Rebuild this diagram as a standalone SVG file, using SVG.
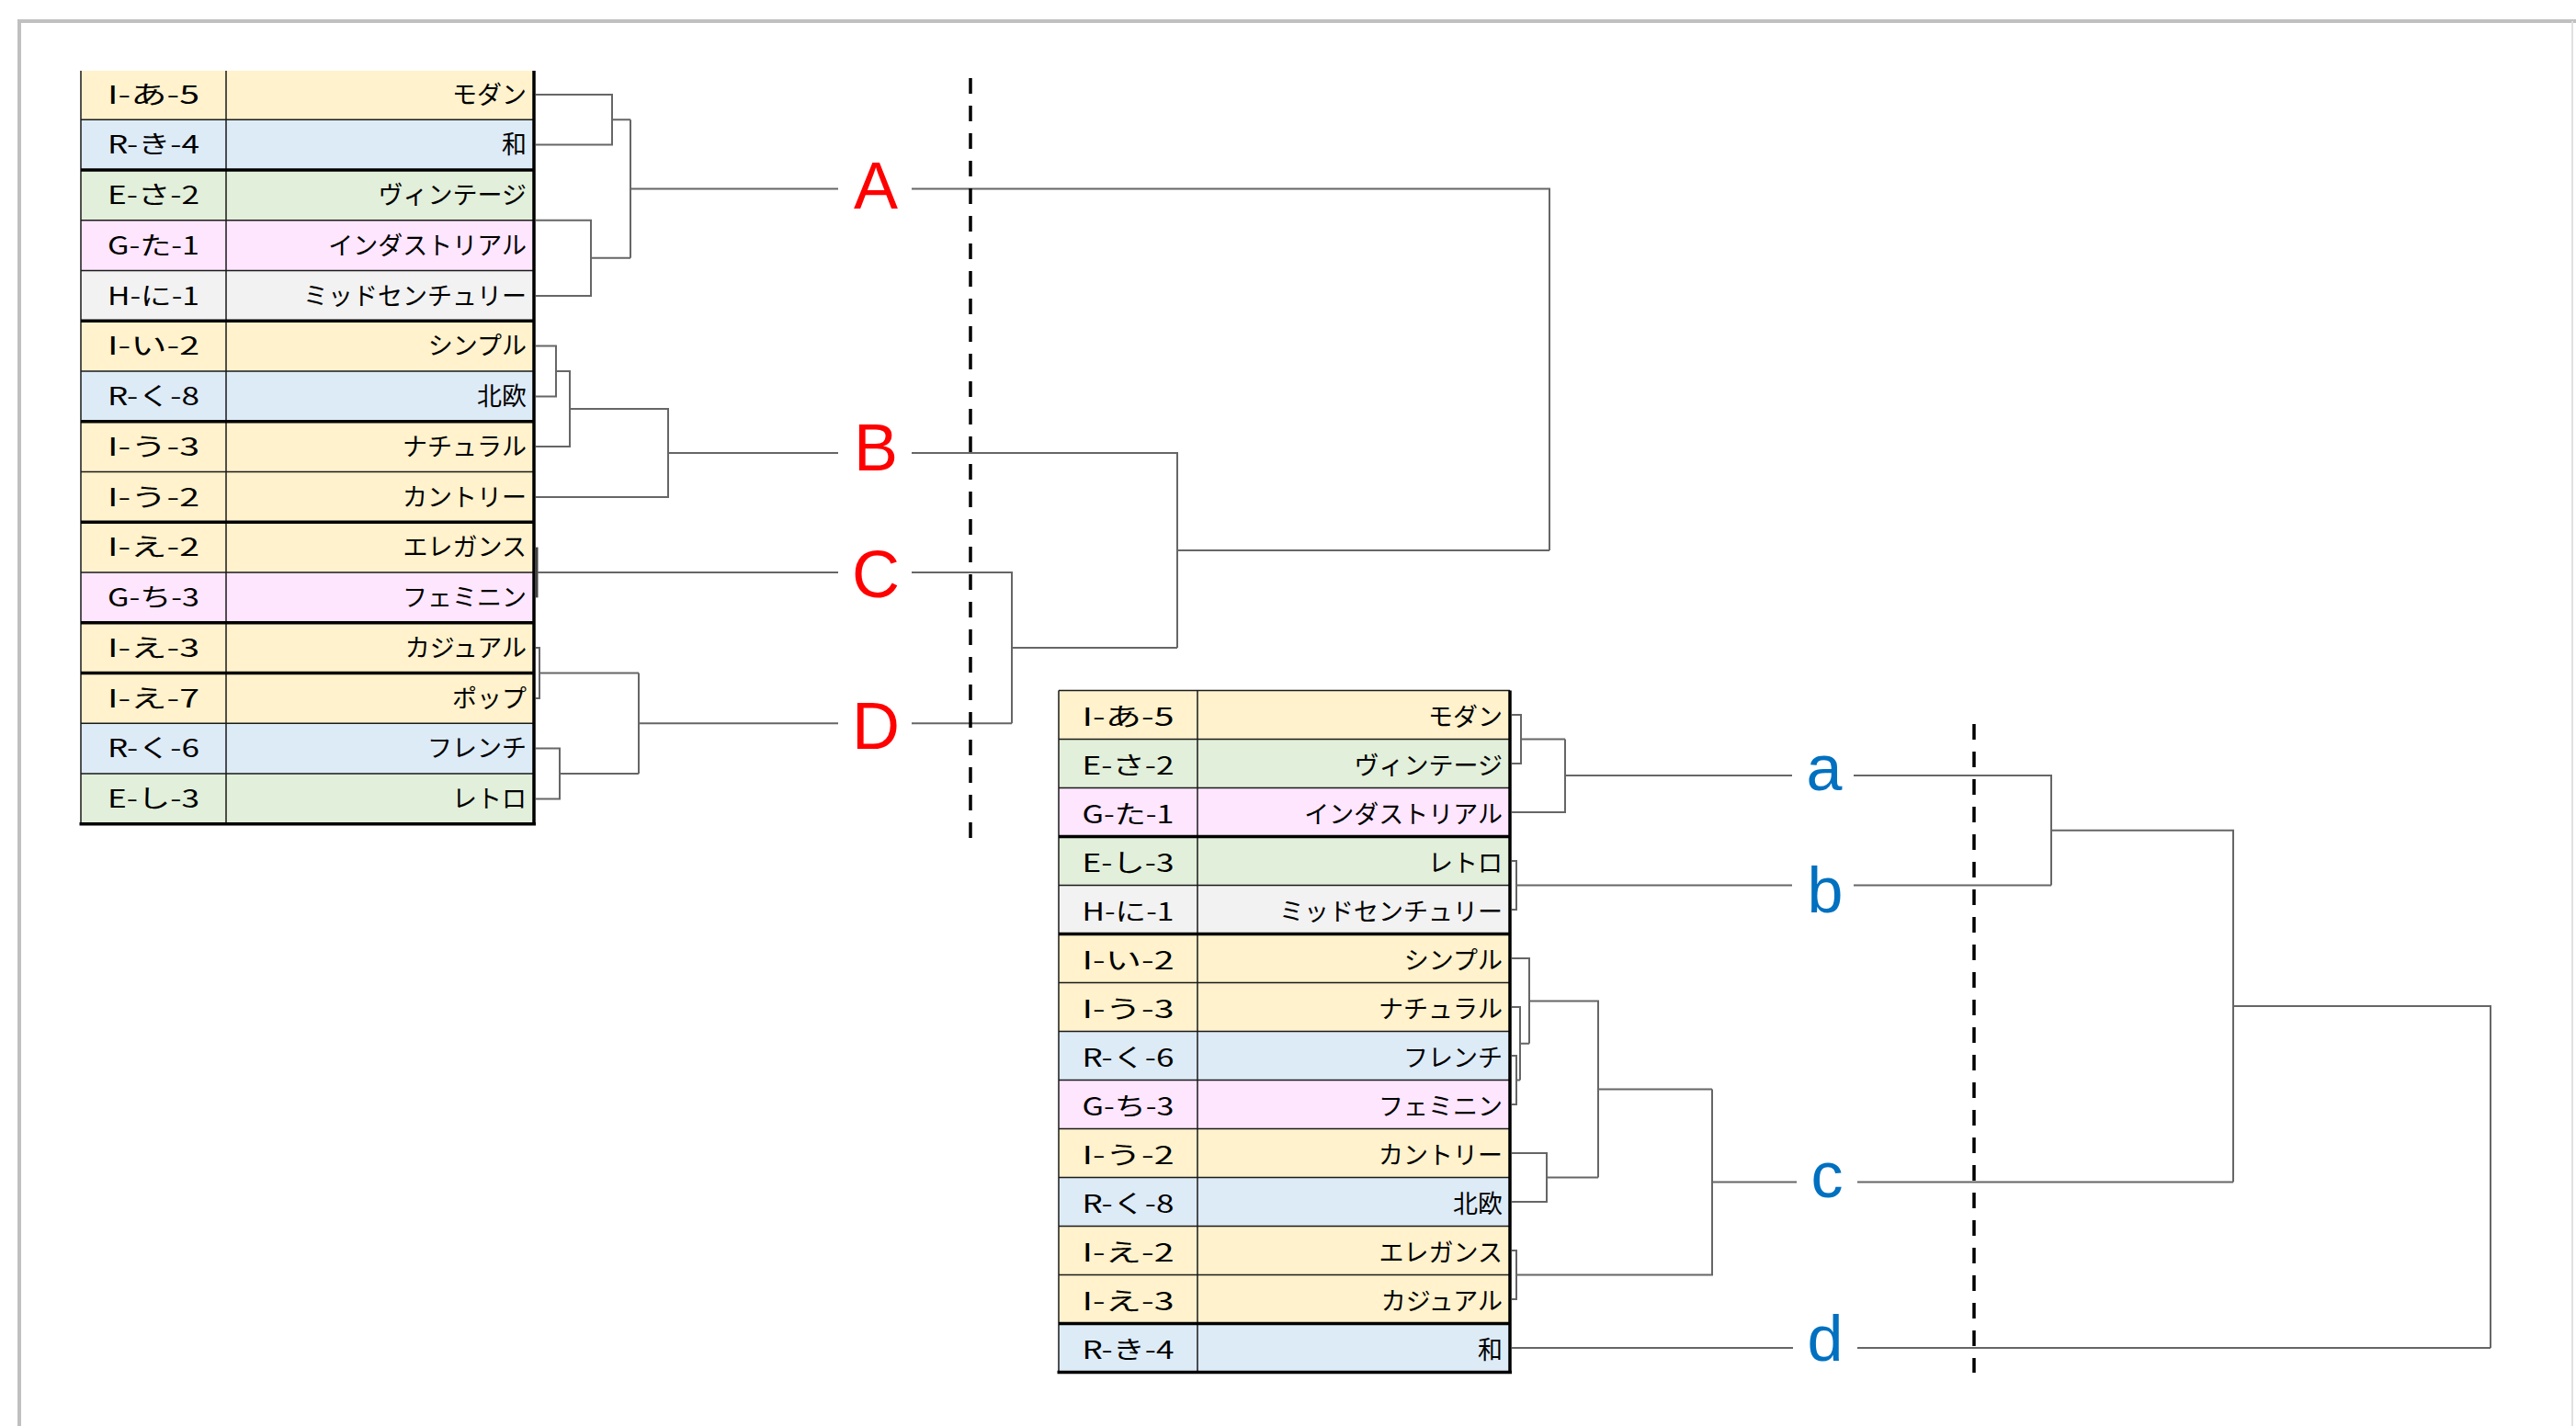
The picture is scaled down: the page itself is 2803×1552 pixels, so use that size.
<svg xmlns="http://www.w3.org/2000/svg" width="2803" height="1552" viewBox="0 0 2803 1552">
<style>
.y{fill:#FFF2CC}.b{fill:#DDEBF7}.g{fill:#E2EFDA}.p{fill:#FFE6FF}.h{fill:#F2F2F2}
.code{font-family:"Noto Sans CJK JP","Noto Sans",sans-serif;font-size:27px;text-anchor:middle;fill:#000}
.name{font-family:"Noto Sans CJK JP","Noto Sans",sans-serif;font-size:27px;text-anchor:end;fill:#000}
.thin{stroke:#1a1a1a;stroke-width:1.5;fill:none}
.thick{stroke:#000;stroke-width:3.5;fill:none}
.cn{stroke:#666;stroke-width:2;fill:none}
.dash{stroke:#000;stroke-width:3.5;stroke-dasharray:17 13;fill:none}
.lr{font-family:"Liberation Sans",Arial,sans-serif;font-size:72px;fill:#FF0000;text-anchor:middle}
.lb{font-family:"Liberation Sans",Arial,sans-serif;font-size:70px;fill:#0070C0;text-anchor:middle}
</style>
<rect x="0" y="0" width="2803" height="1552" fill="#fff"/>
<path d="M21,1552 V23 H2803" stroke="#C0C0C0" stroke-width="4" fill="none"/>
<path d="M2799,23 V1552" stroke="#E0E0E0" stroke-width="2" fill="none"/>

<!-- Left table -->
<g id="left-table">
<g id="L0"><rect class="y" x="88" y="77" width="493" height="53.25"/><text class="code" x="167" y="112.5" textLength="100" lengthAdjust="spacingAndGlyphs">I-あ-5</text><text class="name" x="573" y="112.5">モダン</text></g>
<g id="L1"><rect class="b" x="88" y="130.25" width="493" height="54.75"/><text class="code" x="167" y="167.25" textLength="100" lengthAdjust="spacingAndGlyphs">R-き-4</text><text class="name" x="573" y="167.25">和</text></g>
<g id="L2"><rect class="g" x="88" y="185" width="493" height="54.75"/><text class="code" x="167" y="222" textLength="100" lengthAdjust="spacingAndGlyphs">E-さ-2</text><text class="name" x="573" y="222">ヴィンテージ</text></g>
<g id="L3"><rect class="p" x="88" y="239.75" width="493" height="54.75"/><text class="code" x="167" y="276.75" textLength="100" lengthAdjust="spacingAndGlyphs">G-た-1</text><text class="name" x="573" y="276.75">インダストリアル</text></g>
<g id="L4"><rect class="h" x="88" y="294.5" width="493" height="54.75"/><text class="code" x="167" y="331.5" textLength="100" lengthAdjust="spacingAndGlyphs">H-に-1</text><text class="name" x="573" y="331.5">ミッドセンチュリー</text></g>
<g id="L5"><rect class="y" x="88" y="349.25" width="493" height="54.75"/><text class="code" x="167" y="386.25" textLength="100" lengthAdjust="spacingAndGlyphs">I-い-2</text><text class="name" x="573" y="386.25">シンプル</text></g>
<g id="L6"><rect class="b" x="88" y="404" width="493" height="54.75"/><text class="code" x="167" y="441" textLength="100" lengthAdjust="spacingAndGlyphs">R-く-8</text><text class="name" x="573" y="441">北欧</text></g>
<g id="L7"><rect class="y" x="88" y="458.75" width="493" height="54.75"/><text class="code" x="167" y="495.75" textLength="100" lengthAdjust="spacingAndGlyphs">I-う-3</text><text class="name" x="573" y="495.75">ナチュラル</text></g>
<g id="L8"><rect class="y" x="88" y="513.5" width="493" height="54.75"/><text class="code" x="167" y="550.5" textLength="100" lengthAdjust="spacingAndGlyphs">I-う-2</text><text class="name" x="573" y="550.5">カントリー</text></g>
<g id="L9"><rect class="y" x="88" y="568.25" width="493" height="54.75"/><text class="code" x="167" y="605.25" textLength="100" lengthAdjust="spacingAndGlyphs">I-え-2</text><text class="name" x="573" y="605.25">エレガンス</text></g>
<g id="L10"><rect class="p" x="88" y="623" width="493" height="54.75"/><text class="code" x="167" y="660" textLength="100" lengthAdjust="spacingAndGlyphs">G-ち-3</text><text class="name" x="573" y="660">フェミニン</text></g>
<g id="L11"><rect class="y" x="88" y="677.75" width="493" height="54.75"/><text class="code" x="167" y="714.75" textLength="100" lengthAdjust="spacingAndGlyphs">I-え-3</text><text class="name" x="573" y="714.75">カジュアル</text></g>
<g id="L12"><rect class="y" x="88" y="732.5" width="493" height="54.75"/><text class="code" x="167" y="769.5" textLength="100" lengthAdjust="spacingAndGlyphs">I-え-7</text><text class="name" x="573" y="769.5">ポップ</text></g>
<g id="L13"><rect class="b" x="88" y="787.25" width="493" height="54.75"/><text class="code" x="167" y="824.25" textLength="100" lengthAdjust="spacingAndGlyphs">R-く-6</text><text class="name" x="573" y="824.25">フレンチ</text></g>
<g id="L14"><rect class="g" x="88" y="842" width="493" height="54.75"/><text class="code" x="167" y="879" textLength="100" lengthAdjust="spacingAndGlyphs">E-し-3</text><text class="name" x="573" y="879">レトロ</text></g>
<g id="left-grid">
<path class="thin" d="M88,77 V896.75 M246,77 V896.75 M88,130.25 H581 M88,239.75 H581 M88,294.5 H581 M88,404 H581 M88,513.5 H581 M88,623 H581 M88,787.25 H581 M88,842 H581"/>
<path class="thick" d="M581,77 V898.5 M88,185 H581 M88,349.25 H581 M88,458.75 H581 M88,568.25 H581 M88,677.75 H581 M88,732.5 H581 M86.5,896.75 H583"/>
</g>
</g>

<!-- Right table -->
<g id="right-table">
<g id="R0"><rect class="y" x="1152" y="751.5" width="491" height="53"/><text class="code" x="1227.5" y="789.5" textLength="100" lengthAdjust="spacingAndGlyphs">I-あ-5</text><text class="name" x="1635" y="789.5">モダン</text></g>
<g id="R1"><rect class="g" x="1152" y="804.5" width="491" height="53"/><text class="code" x="1227.5" y="842.5" textLength="100" lengthAdjust="spacingAndGlyphs">E-さ-2</text><text class="name" x="1635" y="842.5">ヴィンテージ</text></g>
<g id="R2"><rect class="p" x="1152" y="857.5" width="491" height="53"/><text class="code" x="1227.5" y="895.5" textLength="100" lengthAdjust="spacingAndGlyphs">G-た-1</text><text class="name" x="1635" y="895.5">インダストリアル</text></g>
<g id="R3"><rect class="g" x="1152" y="910.5" width="491" height="53"/><text class="code" x="1227.5" y="948.5" textLength="100" lengthAdjust="spacingAndGlyphs">E-し-3</text><text class="name" x="1635" y="948.5">レトロ</text></g>
<g id="R4"><rect class="h" x="1152" y="963.5" width="491" height="53"/><text class="code" x="1227.5" y="1001.5" textLength="100" lengthAdjust="spacingAndGlyphs">H-に-1</text><text class="name" x="1635" y="1001.5">ミッドセンチュリー</text></g>
<g id="R5"><rect class="y" x="1152" y="1016.5" width="491" height="53"/><text class="code" x="1227.5" y="1054.5" textLength="100" lengthAdjust="spacingAndGlyphs">I-い-2</text><text class="name" x="1635" y="1054.5">シンプル</text></g>
<g id="R6"><rect class="y" x="1152" y="1069.5" width="491" height="53"/><text class="code" x="1227.5" y="1107.5" textLength="100" lengthAdjust="spacingAndGlyphs">I-う-3</text><text class="name" x="1635" y="1107.5">ナチュラル</text></g>
<g id="R7"><rect class="b" x="1152" y="1122.5" width="491" height="53"/><text class="code" x="1227.5" y="1160.5" textLength="100" lengthAdjust="spacingAndGlyphs">R-く-6</text><text class="name" x="1635" y="1160.5">フレンチ</text></g>
<g id="R8"><rect class="p" x="1152" y="1175.5" width="491" height="53"/><text class="code" x="1227.5" y="1213.5" textLength="100" lengthAdjust="spacingAndGlyphs">G-ち-3</text><text class="name" x="1635" y="1213.5">フェミニン</text></g>
<g id="R9"><rect class="y" x="1152" y="1228.5" width="491" height="53"/><text class="code" x="1227.5" y="1266.5" textLength="100" lengthAdjust="spacingAndGlyphs">I-う-2</text><text class="name" x="1635" y="1266.5">カントリー</text></g>
<g id="R10"><rect class="b" x="1152" y="1281.5" width="491" height="53"/><text class="code" x="1227.5" y="1319.5" textLength="100" lengthAdjust="spacingAndGlyphs">R-く-8</text><text class="name" x="1635" y="1319.5">北欧</text></g>
<g id="R11"><rect class="y" x="1152" y="1334.5" width="491" height="53"/><text class="code" x="1227.5" y="1372.5" textLength="100" lengthAdjust="spacingAndGlyphs">I-え-2</text><text class="name" x="1635" y="1372.5">エレガンス</text></g>
<g id="R12"><rect class="y" x="1152" y="1387.5" width="491" height="53"/><text class="code" x="1227.5" y="1425.5" textLength="100" lengthAdjust="spacingAndGlyphs">I-え-3</text><text class="name" x="1635" y="1425.5">カジュアル</text></g>
<g id="R13"><rect class="b" x="1152" y="1440.5" width="491" height="53"/><text class="code" x="1227.5" y="1478.5" textLength="100" lengthAdjust="spacingAndGlyphs">R-き-4</text><text class="name" x="1635" y="1478.5">和</text></g>
<g id="right-grid">
<path class="thin" d="M1152,751.5 V1493.5 M1303,751.5 V1493.5 M1152,751.5 H1643 M1152,804.5 H1643 M1152,857.5 H1643 M1152,963.5 H1643 M1152,1069.5 H1643 M1152,1122.5 H1643 M1152,1175.5 H1643 M1152,1228.5 H1643 M1152,1281.5 H1643 M1152,1334.5 H1643 M1152,1387.5 H1643"/>
<path class="thick" d="M1643,751.5 V1495 M1152,910.5 H1643 M1152,1016.5 H1643 M1152,1440.5 H1643 M1150.5,1493.5 H1645"/>
</g>
</g>

<!-- Connectors -->
<g id="connectors">
<path class="cn" d="M583,102.9 H666 V157.6 H583 M666,130.25 H686 M583,239.75 H643 V321.9 H583 M643,280.8 H686 M686,130.25 V280.8 M686,205.5 H912 M992,205.5 H1686 V599"/>
<path class="cn" d="M583,376.6 H605 V431.4 H583 M605,404 H620 V486.1 H583 M620,445 H727 V540.9 H583 M727,493 H912 M992,493 H1281 V705.1"/>
<path stroke="#444" stroke-width="3" fill="none" d="M584,595.6 V650.4"/>
<path class="cn" d="M585,623 H912 M992,623 H1101 V787.25"/>
<path class="cn" d="M583,705.1 H587 V759.9 H583 M587,732.5 H695 M583,814.6 H609 V869.4 H583 M609,842 H695 M695,732.5 V842 M695,787.25 H912 M992,787.25 H1101 M1101,705.1 H1281 M1281,599 H1686"/>
<path class="cn" d="M1645,778 H1655 V831 H1645 M1655,804.5 H1703 M1645,884 H1703 V804.5 M1703,844 H1950 M2017,844 H2232 V963.5"/>
<path class="cn" d="M1645,937 H1650 V990 H1645 M1650,963.5 H1950 M2017,963.5 H2232 M2232,903.75 H2430 V1286.5"/>
<path class="cn" d="M1645,1149 H1650 V1202 H1645 M1650,1175.5 H1654 M1645,1096 H1654 V1175.5 M1654,1135.75 H1664 M1645,1043 H1664 V1135.75 M1664,1089.4 H1739 V1281.5 M1645,1255 H1683 V1308 H1645 M1683,1281.5 H1739 M1739,1185.5 H1863"/>
<path class="cn" d="M1645,1361 H1650 V1414 H1645 M1650,1387.5 H1863 V1185.5 M1863,1286.5 H1955 M2021,1286.5 H2430 M2430,1095 H2710 V1467 M1645,1467 H1951 M2021,1467 H2710"/>
</g>

<g id="cut-lines">
<path class="dash" d="M1056,85 V915"/>
<path class="dash" d="M2148,788 V1494"/>
</g>

<g id="label-A"><text class="lr" x="953" y="227">A</text></g>
<g id="label-B"><text class="lr" x="953" y="512">B</text></g>
<g id="label-C"><text class="lr" x="953" y="650">C</text></g>
<g id="label-D"><text class="lr" x="953" y="815">D</text></g>
<g id="label-a"><text class="lb" x="1985" y="860">a</text></g>
<g id="label-b"><text class="lb" x="1986" y="993">b</text></g>
<g id="label-c"><text class="lb" x="1988" y="1303">c</text></g>
<g id="label-d"><text class="lb" x="1986" y="1481">d</text></g>
</svg>
